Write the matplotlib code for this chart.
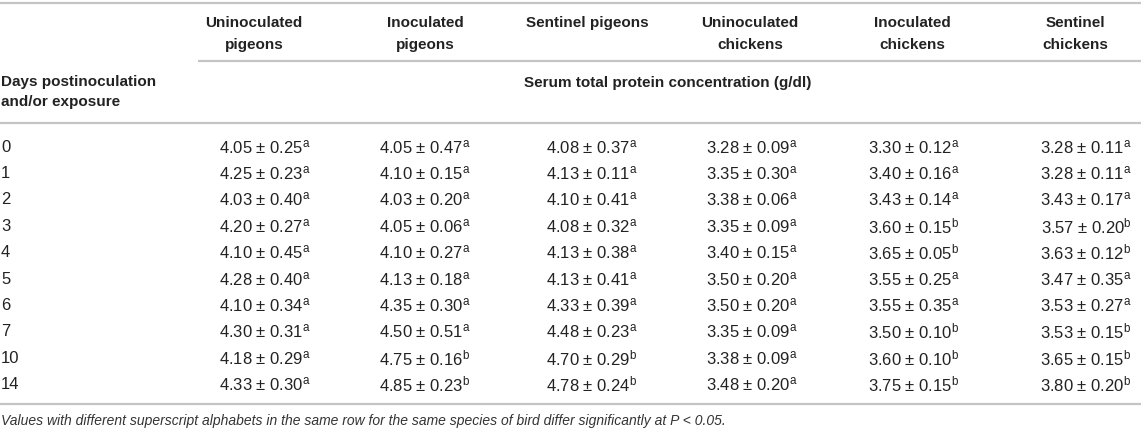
import matplotlib
matplotlib.use("Agg")
import matplotlib.pyplot as plt

plt.rcParams['font.family'] = ['Liberation Sans', 'DejaVu Sans']
plt.rcParams['mathtext.fontset'] = 'custom'
plt.rcParams['mathtext.rm'] = 'Liberation Sans'
plt.rcParams['mathtext.it'] = 'Liberation Sans:italic'

# DATOS DE LA TABLA

dias = ['0', '1', '2', '3', '4', '5', '6', '7', '10', '14']

grupos = ['Uninoculated\npigeons', 'Inoculated\npigeons', 'Sentinel pigeons',
          'Uninoculated\nchickens', 'Inoculated\nchickens', 'Sentinel\nchickens']

media_up = [4.05, 4.25, 4.03, 4.20, 4.10, 4.28, 4.10, 4.30, 4.18, 4.33]
de_up = [0.25, 0.23, 0.40, 0.27, 0.45, 0.40, 0.34, 0.31, 0.29, 0.30]
letra_up = ['a', 'a', 'a', 'a', 'a', 'a', 'a', 'a', 'a', 'a']

media_ip = [4.05, 4.10, 4.03, 4.05, 4.10, 4.13, 4.35, 4.50, 4.75, 4.85]
de_ip = [0.47, 0.15, 0.20, 0.06, 0.27, 0.18, 0.30, 0.51, 0.16, 0.23]
letra_ip = ['a', 'a', 'a', 'a', 'a', 'a', 'a', 'a', 'b', 'b']

media_sp = [4.08, 4.13, 4.10, 4.08, 4.13, 4.13, 4.33, 4.48, 4.70, 4.78]
de_sp = [0.37, 0.11, 0.41, 0.32, 0.38, 0.41, 0.39, 0.23, 0.29, 0.24]
letra_sp = ['a', 'a', 'a', 'a', 'a', 'a', 'a', 'a', 'b', 'b']

media_uc = [3.28, 3.35, 3.38, 3.35, 3.40, 3.50, 3.50, 3.35, 3.38, 3.48]
de_uc = [0.09, 0.30, 0.06, 0.09, 0.15, 0.20, 0.20, 0.09, 0.09, 0.20]
letra_uc = ['a', 'a', 'a', 'a', 'a', 'a', 'a', 'a', 'a', 'a']

media_ic = [3.30, 3.40, 3.43, 3.60, 3.65, 3.55, 3.55, 3.50, 3.60, 3.75]
de_ic = [0.12, 0.16, 0.14, 0.15, 0.05, 0.25, 0.35, 0.10, 0.10, 0.15]
letra_ic = ['a', 'a', 'a', 'b', 'b', 'a', 'a', 'b', 'b', 'b']

media_sc = [3.28, 3.28, 3.43, 3.57, 3.63, 3.47, 3.53, 3.53, 3.65, 3.80]
de_sc = [0.11, 0.11, 0.17, 0.20, 0.12, 0.35, 0.27, 0.15, 0.15, 0.20]
letra_sc = ['a', 'a', 'a', 'b', 'b', 'a', 'a', 'b', 'b', 'b']

columnas = [(media_up, de_up, letra_up), (media_ip, de_ip, letra_ip),
            (media_sp, de_sp, letra_sp), (media_uc, de_uc, letra_uc),
            (media_ic, de_ic, letra_ic), (media_sc, de_sc, letra_sc)]

# POSICIONES (PIXELES)

x_cab = [254, 425, 587, 750, 912, 1075]
x_val = [265, 425, 592, 752, 914, 1086]
y_fila0 = 147
paso = 26.4

color_texto = '#222222'
color_linea = '#c4c4c4'

fig = plt.figure(figsize=(11.43, 4.32), dpi=100)
ax = fig.add_axes([0, 0, 1, 1])
ax.set_xlim(0, 1143)
ax.set_ylim(432, 0)
ax.axis('off')

# LINEAS DE LA TABLA

ax.hlines(3, 0, 1141, color=color_linea, linewidth=1.6)
ax.hlines(61, 198, 1141, color=color_linea, linewidth=1.6)
ax.hlines(123, 0, 1141, color=color_linea, linewidth=1.6)
ax.hlines(404, 0, 1141, color=color_linea, linewidth=1.6)

# ENCABEZADOS

for x, g in zip(x_cab, grupos):
    ax.text(x, 16, g, ha='center', va='top', fontsize=11, fontweight='bold',
            color=color_texto, linespacing=1.75)

ax.text(1, 92, 'Days postinoculation\nand/or exposure', ha='left', va='center',
        fontsize=11, fontweight='bold', color=color_texto, linespacing=1.6)
ax.text(668, 83, 'Serum total protein concentration (g/dl)', ha='center', va='center',
        fontsize=11, fontweight='bold', color=color_texto)

# FILAS

for i, d in enumerate(dias):
    y = y_fila0 + i * paso
    ax.text(1, y, d, ha='left', va='center', fontsize=12, color=color_texto)
    for x, (medias, des, letras) in zip(x_val, columnas):
        s = '%.2f \u00b1 %.2f$^{\\mathrm{%s}}$' % (medias[i], des[i], letras[i])
        ax.text(x, y, s, ha='center', va='center', fontsize=12, color=color_texto)

# NOTA AL PIE

ax.text(1, 421, 'Values with different superscript alphabets in the same row for the same '
        'species of bird differ significantly at P < 0.05.', ha='left', va='center',
        fontsize=10, style='italic', color='#333333')

fig.savefig('out.png', dpi=100)
